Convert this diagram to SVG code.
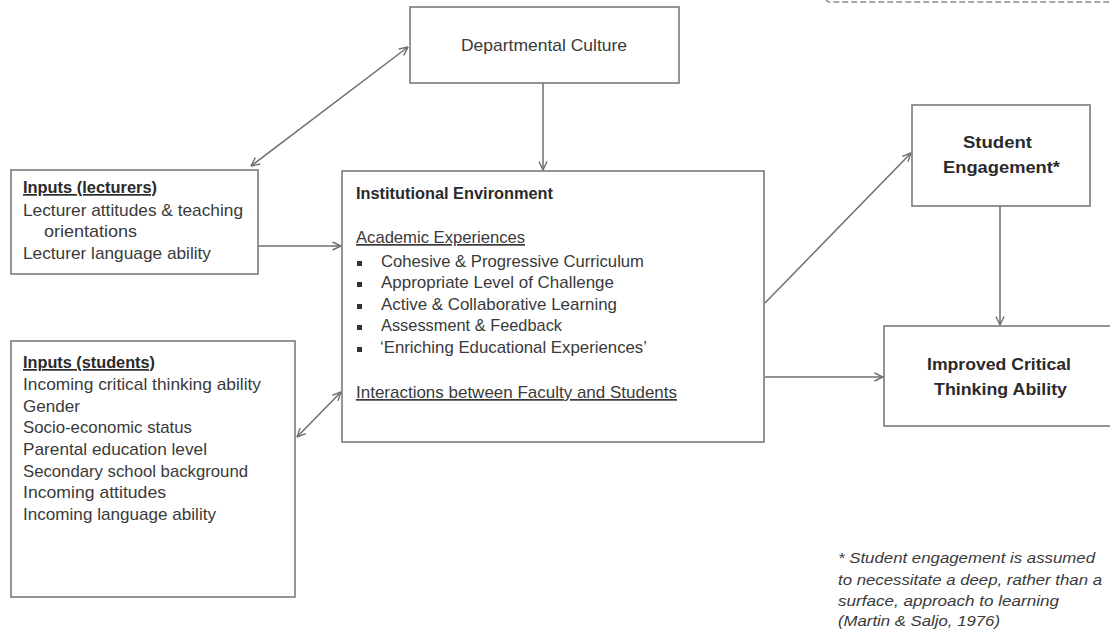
<svg xmlns="http://www.w3.org/2000/svg" width="1110" height="634" viewBox="0 0 1110 634">
<style>
.box{fill:#fff;stroke:#7a7a7a;stroke-width:1.6}
.t{font-family:"Liberation Sans",Arial,sans-serif;font-size:17px;fill:#3a3a3a}
.b{font-weight:bold;fill:#2a2a2a}
.u{text-decoration:underline}
.i{font-style:italic;font-size:15.5px}
.ln{stroke:#6e6e6e;stroke-width:1.5;fill:none}
.bul{fill:#333}
</style>
<defs>
<marker id="ah" viewBox="0 0 10 10" refX="9.5" refY="5" markerWidth="10" markerHeight="10" markerUnits="userSpaceOnUse" orient="auto-start-reverse">
<path d="M1,1 L9.5,5 L1,9" fill="none" stroke="#6e6e6e" stroke-width="1.4"/>
</marker>
</defs>
<rect x="826" y="-40" width="300" height="42" rx="4" fill="none" stroke="#8a8a8a" stroke-width="1.4" stroke-dasharray="6,3"/>
<g id="connectors">
<line class="ln" x1="251" y1="166" x2="408" y2="47" marker-start="url(#ah)" marker-end="url(#ah)"/>
<line class="ln" x1="543" y1="83" x2="543" y2="170" marker-end="url(#ah)"/>
<line class="ln" x1="258" y1="246" x2="341" y2="246" marker-end="url(#ah)"/>
<line class="ln" x1="297" y1="437" x2="341" y2="392" marker-start="url(#ah)" marker-end="url(#ah)"/>
<line class="ln" x1="765" y1="303" x2="911" y2="153" marker-end="url(#ah)"/>
<line class="ln" x1="765" y1="377" x2="883" y2="377" marker-end="url(#ah)"/>
<line class="ln" x1="1000" y1="206" x2="1000" y2="325" marker-end="url(#ah)"/>
</g>
<g id="dept">
<rect class="box" x="410" y="7" width="269" height="76"/>
<text class="t" x="461" y="51" textLength="166" lengthAdjust="spacingAndGlyphs">Departmental Culture</text>
</g>
<g id="lecturers">
<rect class="box" x="11" y="170" width="247" height="104"/>
<text class="t b u" x="23" y="193" textLength="134" lengthAdjust="spacingAndGlyphs">Inputs (lecturers)</text>
<text class="t" x="23" y="216" textLength="220" lengthAdjust="spacingAndGlyphs">Lecturer attitudes &amp; teaching</text>
<text class="t" x="44" y="237" textLength="93" lengthAdjust="spacingAndGlyphs">orientations</text>
<text class="t" x="23" y="259" textLength="188" lengthAdjust="spacingAndGlyphs">Lecturer language ability</text>
</g>
<g id="students">
<rect class="box" x="11" y="341" width="284" height="256"/>
<text class="t b u" x="23" y="368" textLength="132" lengthAdjust="spacingAndGlyphs">Inputs (students)</text>
<text class="t" x="23" y="390" textLength="238" lengthAdjust="spacingAndGlyphs">Incoming critical thinking ability</text>
<text class="t" x="23" y="412" textLength="57" lengthAdjust="spacingAndGlyphs">Gender</text>
<text class="t" x="23" y="433" textLength="169" lengthAdjust="spacingAndGlyphs">Socio-economic status</text>
<text class="t" x="23" y="455" textLength="184" lengthAdjust="spacingAndGlyphs">Parental education level</text>
<text class="t" x="23" y="477" textLength="225" lengthAdjust="spacingAndGlyphs">Secondary school background</text>
<text class="t" x="23" y="498" textLength="143" lengthAdjust="spacingAndGlyphs">Incoming attitudes</text>
<text class="t" x="23" y="520" textLength="193" lengthAdjust="spacingAndGlyphs">Incoming language ability</text>
</g>
<g id="institutional">
<rect class="box" x="342" y="171" width="422" height="271"/>
<text class="t b" x="356" y="199" textLength="197" lengthAdjust="spacingAndGlyphs">Institutional Environment</text>
<text class="t u" x="356" y="243" textLength="169" lengthAdjust="spacingAndGlyphs">Academic Experiences</text>
<rect class="bul" x="357" y="261" width="5" height="5"/>
<text class="t" x="381" y="267" textLength="263" lengthAdjust="spacingAndGlyphs">Cohesive &amp; Progressive Curriculum</text>
<rect class="bul" x="357" y="282" width="5" height="5"/>
<text class="t" x="381" y="288" textLength="233" lengthAdjust="spacingAndGlyphs">Appropriate Level of Challenge</text>
<rect class="bul" x="357" y="304" width="5" height="5"/>
<text class="t" x="381" y="310" textLength="236" lengthAdjust="spacingAndGlyphs">Active &amp; Collaborative Learning</text>
<rect class="bul" x="357" y="325" width="5" height="5"/>
<text class="t" x="381" y="331" textLength="181" lengthAdjust="spacingAndGlyphs">Assessment &amp; Feedback</text>
<rect class="bul" x="357" y="347" width="5" height="5"/>
<text class="t" x="380" y="353" textLength="267" lengthAdjust="spacingAndGlyphs">‘Enriching Educational Experiences’</text>
<text class="t u" x="356" y="398" textLength="321" lengthAdjust="spacingAndGlyphs">Interactions between Faculty and Students</text>
</g>
<g id="engagement">
<rect class="box" x="912" y="105" width="178" height="101"/>
<text class="t b" x="963" y="148" textLength="69" lengthAdjust="spacingAndGlyphs">Student</text>
<text class="t b" x="943" y="173" textLength="117" lengthAdjust="spacingAndGlyphs">Engagement*</text>
</g>
<g id="improved">
<rect class="box" x="884" y="326" width="232" height="100"/>
<text class="t b" x="927" y="370" textLength="144" lengthAdjust="spacingAndGlyphs">Improved Critical</text>
<text class="t b" x="934" y="395" textLength="133" lengthAdjust="spacingAndGlyphs">Thinking Ability</text>
</g>
<g id="footnote">
<text class="t i" x="838" y="563" textLength="257" lengthAdjust="spacingAndGlyphs">* Student engagement is assumed</text>
<text class="t i" x="838" y="585" textLength="264" lengthAdjust="spacingAndGlyphs">to necessitate a deep, rather than a</text>
<text class="t i" x="838" y="606" textLength="221" lengthAdjust="spacingAndGlyphs">surface, approach to learning</text>
<text class="t i" x="838" y="626" textLength="162" lengthAdjust="spacingAndGlyphs">(Martin &amp; Saljo, 1976)</text>
</g>
</svg>
